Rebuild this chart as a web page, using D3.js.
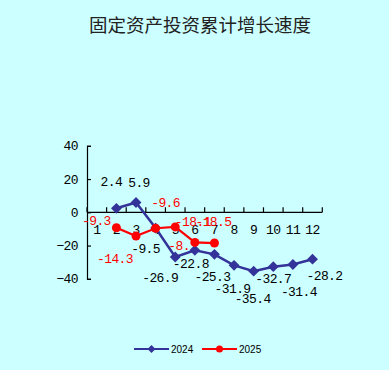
<!DOCTYPE html>
<html><head><meta charset="utf-8">
<script src="https://cdn.jsdelivr.net/npm/d3@7"></script>
<style>
html,body{margin:0;padding:0;background:#CCFFFF;}
svg{display:block;}
</style></head>
<body>
<svg id="chart" width="389" height="370"></svg>
<script>
const title = "固定资产投资累计增长速度";
const months = ["1","2","3","4","5","6","7","8","9","10","11","12"];
const yTicks = [40, 20, 0, -20, -40];
const seriesNames = ["2024", "2025"];
const values2024 = [null, 2.4, 5.9, -9.5, -26.9, -22.8, -25.3, -31.9, -35.4, -32.7, -31.4, -28.2];
const values2025 = [null, -9.3, -14.3, -9.6, -8.8, -18.1, -18.5, null, null, null, null, null];
const labels2024 = [null, "2.4", "5.9", "-9.5", "-26.9", "-22.8", "-25.3", "-31.9", "-35.4", "-32.7", "-31.4", "-28.2"];
const labels2025 = [null, "-9.3", "-14.3", "-9.6", "-8.", "-18.1", "-18.5", null, null, null, null, null];

// label placement (layout, offsets from point in px)
const off2024 = [null,[-5,-27],[3,-20],[-10,20],[-15,20],[-4,13],[-2,22],[-1.5,23],[-1,27.5],[0,12],[6,27],[12,16]];
const off2025 = [null,[-20,-7],[-21,22],[10,-26],[0,19],[-2,-21],[-1,-22]];

const svg = d3.select("#chart");
const W = 389, H = 370;
svg.append("rect").attr("width", W).attr("height", H).attr("fill", "#CCFFFF");

const x = d3.scaleBand().domain(months).range([87, 322.3]).padding(0);
const y = d3.scaleLinear().domain([-40, 40]).range([278.8, 145.8]);
const cx = m => x(m) + x.bandwidth() / 2;

const monoFont = "'Liberation Mono', 'DejaVu Sans Mono', monospace";

// title
svg.append("text").attr("x", 200).attr("y", 32)
  .attr("text-anchor", "middle")
  .attr("font-family", "'Noto Sans CJK SC', sans-serif")
  .attr("font-size", 18.5).attr("fill", "#222")
  .text(title);

// y axis
const yAxis = d3.axisLeft(y).tickValues(yTicks).tickSizeInner(-4).tickSizeOuter(-4).tickPadding(9);
const gy = svg.append("g").attr("transform", "translate(87,0)").call(yAxis);
gy.selectAll("path,line").attr("stroke", "#000").attr("stroke-width", 1.2);
gy.selectAll("text").attr("font-family", monoFont).attr("font-size", 13)
  .attr("letter-spacing", -0.6).attr("fill", "#000");

// x axis at zero
const gx = svg.append("g").attr("transform", `translate(0,${y(0)})`);
gx.append("line").attr("x1", x.range()[0]).attr("x2", x.range()[1])
  .attr("y1", 0).attr("y2", 0).attr("stroke", "#000").attr("stroke-width", 1.2);
const bounds = d3.range(months.length + 1).map(i => x.range()[0] + i * x.step());
gx.selectAll("line.tk").data(bounds).join("line").attr("class", "tk")
  .attr("x1", d => d).attr("x2", d => d).attr("y1", 0).attr("y2", -5)
  .attr("stroke", "#000").attr("stroke-width", 1.2);
const xAxis = d3.axisBottom(x).tickSize(0).tickPadding(12);
const gxl = svg.append("g").attr("transform", `translate(0,${y(0)})`).call(xAxis);
gxl.select(".domain").remove();
gxl.selectAll("text").attr("font-family", monoFont).attr("font-size", 13)
  .attr("letter-spacing", -0.6).attr("fill", "#000");

const blue = "#333399", red = "#FF0000";
const pts24 = months.map((m, i) => ({m, v: values2024[i], l: labels2024[i], o: off2024[i]})).filter(d => d.v != null);
const pts25 = months.map((m, i) => ({m, v: values2025[i], l: labels2025[i], o: off2025[i]})).filter(d => d.v != null);

const line = d3.line().x(d => cx(d.m)).y(d => y(d.v));

svg.append("path").datum(pts24).attr("d", line).attr("fill", "none")
  .attr("stroke", blue).attr("stroke-width", 2.5);
svg.selectAll("path.dia").data(pts24).join("path").attr("class", "dia")
  .attr("d", d3.symbol().type(d3.symbolDiamond2).size(75))
  .attr("transform", d => `translate(${cx(d.m)},${y(d.v)})`)
  .attr("fill", blue);

svg.append("path").datum(pts25).attr("d", line).attr("fill", "none")
  .attr("stroke", red).attr("stroke-width", 2.2);
svg.selectAll("circle.dot").data(pts25).join("circle").attr("class", "dot")
  .attr("cx", d => cx(d.m)).attr("cy", d => y(d.v)).attr("r", 4.5).attr("fill", red);

// data labels
svg.selectAll("text.l25").data(pts25).join("text").attr("class", "l25")
  .attr("x", d => cx(d.m) + d.o[0]).attr("y", d => y(d.v) + d.o[1])
  .attr("dy", "0.35em").attr("text-anchor", (d, i) => i === 3 ? "start" : "middle")
  .attr("dx", (d, i) => i === 3 ? -7 : 0)
  .attr("font-family", monoFont).attr("font-size", 13).attr("letter-spacing", -0.6)
  .attr("fill", red).text(d => d.l);
svg.selectAll("text.l24").data(pts24).join("text").attr("class", "l24")
  .attr("x", d => cx(d.m) + d.o[0]).attr("y", d => y(d.v) + d.o[1])
  .attr("dy", "0.35em").attr("text-anchor", "middle")
  .attr("font-family", monoFont).attr("font-size", 13).attr("letter-spacing", -0.6)
  .attr("fill", "#000").text(d => d.l);

// legend
const leg = svg.append("g");
const legItems = [
  {name: seriesNames[0], color: blue, x0: 134, sym: "diamond"},
  {name: seriesNames[1], color: red, x0: 202, sym: "circle"}
];
legItems.forEach(it => {
  const g = leg.append("g").attr("transform", `translate(${it.x0},349)`);
  g.append("line").attr("x1", 0).attr("x2", 35).attr("stroke", it.color).attr("stroke-width", 2);
  if (it.sym === "diamond") {
    g.append("path").attr("d", d3.symbol().type(d3.symbolDiamond2).size(40)).attr("transform", "translate(17.5,0)").attr("fill", it.color);
  } else {
    g.append("circle").attr("cx", 17.5).attr("r", 3.5).attr("fill", it.color);
  }
  g.append("text").attr("x", 37).attr("dy", "0.35em")
    .attr("font-family", "'Liberation Sans', Arial, sans-serif").attr("font-size", 10)
    .attr("fill", "#000").text(it.name);
});
</script>
</body></html>
